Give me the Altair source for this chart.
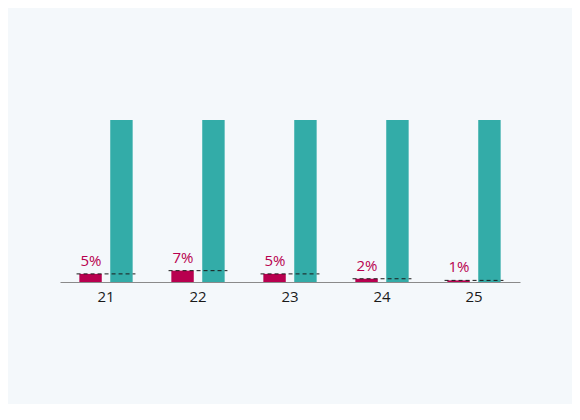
import altair as alt
import pandas as pd

categories = ["21", "22", "23", "24", "25"]
red_values = [5, 7, 5, 2, 1]
teal_values = [100, 100, 100, 100, 100]
label_texts = ["5%", "7%", "5%", "2%", "1%"]

rows = []
for c, r, t in zip(categories, red_values, teal_values):
    rows.append({"cat": c, "series": "a", "value": r})
    rows.append({"cat": c, "series": "b", "value": t})
bars_df = pd.DataFrame(rows)
red_df = pd.DataFrame({"cat": categories, "value": red_values, "label": label_texts})

RED = "#b8004f"
TEAL = "#33aca8"
FONT = "Open Sans"

xscale = alt.Scale(domain=categories, paddingInner=0.36, paddingOuter=0.18)
x = alt.X("cat:N", sort=categories, title=None, scale=xscale,
          axis=alt.Axis(labelAngle=0, ticks=False, domainColor="#8a8a8a",
                        labelColor="#1a1a1a", labelFontSize=15, labelFont=FONT,
                        labelPadding=7, grid=False))
y = alt.Y("value:Q", scale=alt.Scale(domain=[0, 100]), axis=None)

bars = alt.Chart(bars_df).mark_bar().encode(
    x=x,
    xOffset=alt.XOffset("series:N", scale=alt.Scale(paddingInner=0.274, paddingOuter=0.09)),
    y=y,
    color=alt.Color("series:N", scale=alt.Scale(domain=["a", "b"], range=[RED, TEAL]), legend=None),
)

dash = alt.Chart(red_df).mark_rule(strokeWidth=1, color="#1a1a1a", strokeDash=[4, 3]).encode(
    x=alt.X("cat:N", sort=categories, scale=xscale, bandPosition=0, title=None),
    x2=alt.X2("cat:N", bandPosition=1),
    y=y,
)

labels = alt.Chart(red_df).mark_text(color=RED, fontSize=15, font=FONT, dx=-15, dy=-5,
                                     baseline="bottom").encode(x=x, y=y, text="label:N")

chart = alt.layer(bars, dash, labels).properties(
    width=460, height=162, padding={"left": 52, "top": 112, "right": 52, "bottom": 100},
    background="#f4f8fb",
).configure_view(stroke=None)

chart.save("out.html", embed_options={"renderer": "svg", "actions": False})
